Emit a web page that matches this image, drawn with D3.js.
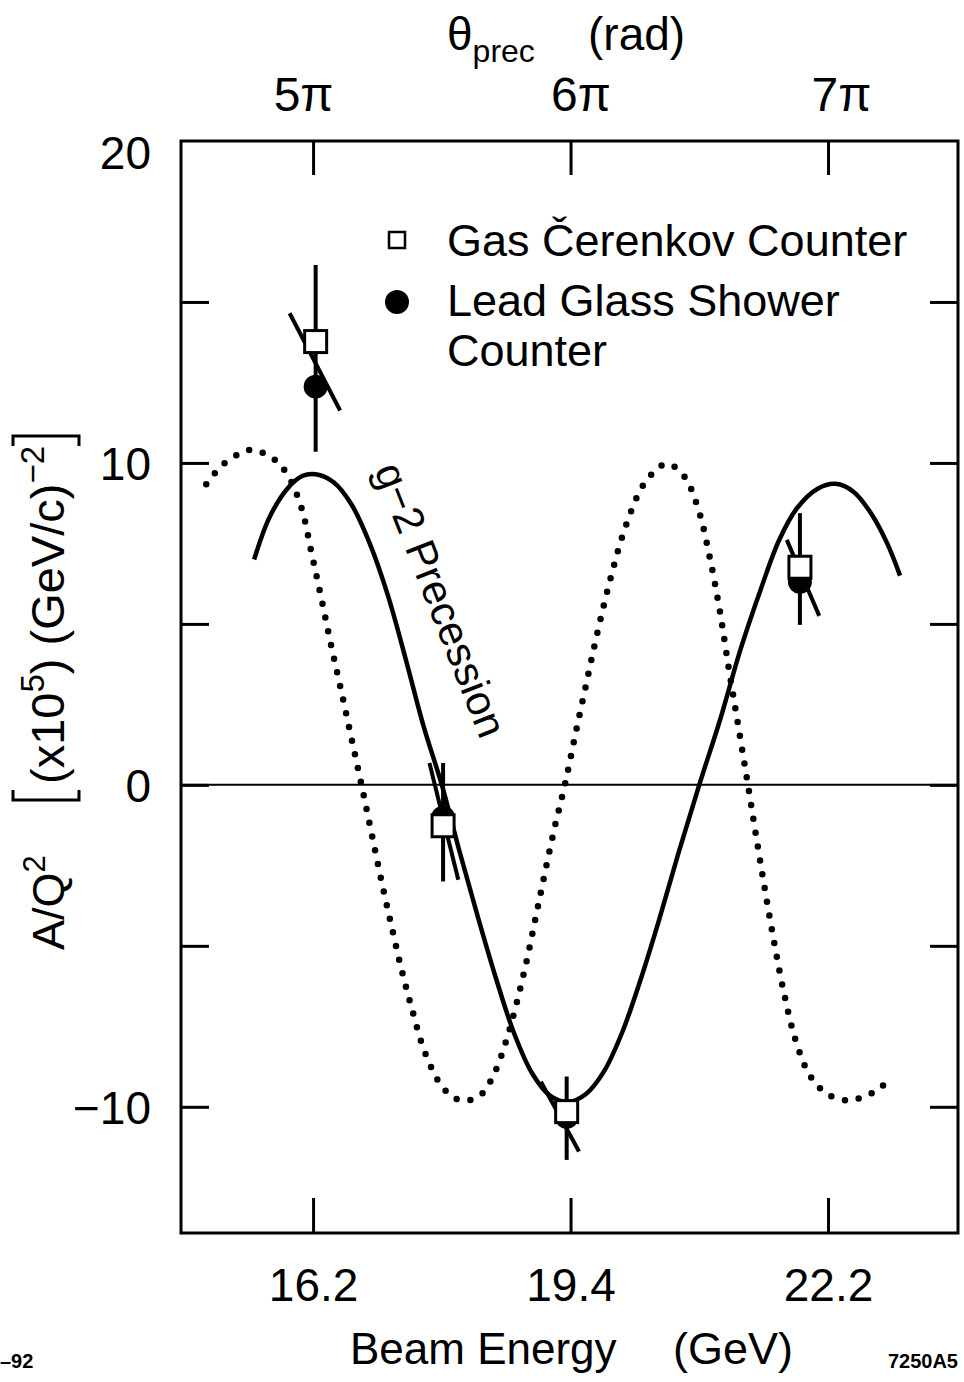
<!DOCTYPE html>
<html>
<head>
<meta charset="utf-8">
<script src="https://cdn.jsdelivr.net/npm/d3@7"></script>
<style>
  body { margin: 0; background: #fff; }
  text { font-family: "Liberation Sans", Arial, sans-serif; fill: #000; }
</style>
</head>
<body>
<svg id="chart" width="964" height="1382"></svg>
<script>
// precession angle in units of pi, and the matching beam energies
const precTicks = [5, 6, 7];
const precLabels = ['5π', '6π', '7π'];
const energyLabels = ['16.2', '19.4', '22.2'];

const yTicks = [-10, -5, 0, 5, 10, 15];
const yLabels = { '-10': '−10', '0': '0', '10': '10' };

// g-2 precession curve (solid): [theta/pi, A/Q^2]
const precessionCurve = [
  [4.771, 7.0], [4.83, 8.3], [4.9, 9.2], [4.96, 9.6], [5.01, 9.65],
  [5.08, 9.4], [5.15, 8.7], [5.22, 7.5], [5.29, 5.9], [5.36, 3.9],
  [5.43, 1.8], [5.5, 0], [5.57, -2.1], [5.64, -4.1], [5.71, -6.0],
  [5.78, -7.7], [5.85, -8.95], [5.92, -9.65], [5.99, -9.85], [6.06, -9.6],
  [6.13, -8.9], [6.2, -7.7], [6.27, -6.1], [6.34, -4.3], [6.42, -2.1],
  [6.5, 0], [6.58, 2.0], [6.66, 4.2], [6.74, 6.1], [6.81, 7.6],
  [6.88, 8.6], [6.96, 9.2], [7.03, 9.35], [7.1, 9.1], [7.17, 8.4],
  [7.23, 7.5], [7.28, 6.5]
];

// dotted curve
const dottedCurve = [
  [4.585, 9.34], [4.65, 9.95], [4.734, 10.36], [4.773, 10.4], [4.851, 10.1],
  [4.903, 9.6], [4.955, 8.6], [4.994, 7.2], [5.032, 5.8], [5.071, 4.3],
  [5.11, 2.9], [5.149, 1.45], [5.188, 0], [5.227, -1.5], [5.266, -3.0],
  [5.305, -4.4], [5.344, -5.75], [5.382, -6.9], [5.434, -8.3], [5.499, -9.35],
  [5.55, -9.73], [5.602, -9.8], [5.655, -9.6], [5.705, -8.95], [5.75, -7.95],
  [5.79, -6.8], [5.83, -5.45], [5.865, -4.1], [5.9, -2.75], [5.939, -1.3],
  [5.978, 0], [6.017, 1.5], [6.06, 3.1], [6.105, 4.75], [6.155, 6.4],
  [6.215, 8.05], [6.29, 9.4], [6.372, 9.97], [6.44, 9.6], [6.495, 8.6],
  [6.54, 7.1], [6.58, 5.4], [6.615, 3.6], [6.65, 1.9], [6.685, 0.2],
  [6.72, -1.55], [6.755, -3.25], [6.79, -4.85], [6.83, -6.5], [6.875, -7.95],
  [6.93, -9.03], [6.996, -9.6], [7.074, -9.8], [7.136, -9.7], [7.202, -9.42],
  [7.249, -9.03]
];

// measured points
const pointTheta = [5.01, 5.505, 5.985, 6.891];
const gasValue = [13.77, -1.27, -10.15, 6.76];
const gasErrHi = [16.15, 0.68, -9.06, 8.44];
const gasErrLo = [10.35, -3.0, -11.65, 4.97];
const leadValue = [12.37, -1.02, -10.31, 6.31];
const leadSlantStart = [[4.909, 14.65], [5.452, 0.68], [5.885, -9.22], [6.84, 7.61]];
const leadSlantEnd = [[5.105, 11.63], [5.564, -2.95], [6.033, -11.39], [6.966, 5.25]];

const svg = d3.select('#chart');
const frame = { left: 181, right: 958, top: 141, bottom: 1233 };

const x = d3.scaleLinear().domain([4.487, 7.505]).range([frame.left, frame.right]);
const y = d3.scaleLinear().domain([-13.92, 20]).range([frame.bottom, frame.top]);

function styleAxis(g, size) {
  g.select('.domain').remove();
  g.selectAll('.tick line').attr('stroke', '#000').attr('stroke-width', 3);
  g.selectAll('.tick text').style('font-size', (size || 44) + 'px').attr('fill', '#000');
}

svg.append('g')
  .attr('transform', `translate(${frame.left},0)`)
  .call(d3.axisLeft(y).tickValues(yTicks).tickSize(-28).tickPadding(30)
    .tickFormat(d => yLabels[d] || ''))
  .call(styleAxis, 46)
  .selectAll('.tick text').attr('dy', '0.36em');

// "20" sits at the top corner
svg.append('text')
  .attr('x', frame.left - 30).attr('y', y(20) + 28)
  .attr('text-anchor', 'end').style('font-size', '46px')
  .text('20');

svg.append('g')
  .attr('transform', `translate(${frame.right},0)`)
  .call(d3.axisRight(y).tickValues(yTicks).tickSize(-28).tickFormat(''))
  .call(styleAxis);

const precLabelShift = [-10, 10, 13];
svg.append('g')
  .attr('transform', `translate(0,${frame.top})`)
  .call(d3.axisTop(x).tickValues(precTicks).tickSize(-34).tickPadding(30)
    .tickFormat((d, i) => precLabels[i]))
  .call(styleAxis, 48)
  .selectAll('.tick text').attr('dx', (d, i) => precLabelShift[i]);

svg.append('g')
  .attr('transform', `translate(0,${frame.bottom})`)
  .call(d3.axisBottom(x).tickValues(precTicks).tickSize(-35).tickPadding(35)
    .tickFormat((d, i) => energyLabels[i]))
  .call(styleAxis, 46);

svg.append('rect')
  .attr('x', frame.left).attr('y', frame.top)
  .attr('width', frame.right - frame.left).attr('height', frame.bottom - frame.top)
  .attr('fill', 'none').attr('stroke', '#000').attr('stroke-width', 3);

// zero line
svg.append('line')
  .attr('x1', frame.left).attr('x2', frame.right)
  .attr('y1', y(0)).attr('y2', y(0))
  .attr('stroke', '#000').attr('stroke-width', 2);

const line = d3.line()
  .x(d => x(d[0]))
  .y(d => y(d[1]))
  .curve(d3.curveCatmullRom.alpha(0.5));

svg.append('path')
  .datum(dottedCurve)
  .attr('d', line)
  .attr('fill', 'none')
  .attr('stroke', '#000')
  .attr('stroke-width', 6.5)
  .attr('stroke-linecap', 'round')
  .attr('stroke-dasharray', '0 14');

svg.append('path')
  .datum(precessionCurve)
  .attr('d', line)
  .attr('fill', 'none')
  .attr('stroke', '#000')
  .attr('stroke-width', 4.5);

svg.append('text')
  .attr('transform', 'translate(374,470) rotate(68.5)')
  .style('font-size', '42px')
  .text('g−2 Precession');

// data points
const pts = pointTheta.map((t, i) => ({
  t, gas: gasValue[i], hi: gasErrHi[i], lo: gasErrLo[i],
  lead: leadValue[i], s0: leadSlantStart[i], s1: leadSlantEnd[i]
}));

const pg = svg.append('g');
pg.selectAll('.err').data(pts).join('line')
  .attr('x1', d => x(d.t)).attr('x2', d => x(d.t))
  .attr('y1', d => y(d.hi)).attr('y2', d => y(d.lo))
  .attr('stroke', '#000').attr('stroke-width', 4);

pg.selectAll('.slant').data(pts).join('line')
  .attr('x1', d => x(d.s0[0])).attr('y1', d => y(d.s0[1]))
  .attr('x2', d => x(d.s1[0])).attr('y2', d => y(d.s1[1]))
  .attr('stroke', '#000').attr('stroke-width', 4);

pg.selectAll('circle').data(pts).join('circle')
  .attr('cx', d => x(d.t)).attr('cy', d => y(d.lead))
  .attr('r', 12).attr('fill', '#000');

pg.selectAll('rect').data(pts).join('rect')
  .attr('x', d => x(d.t) - 11).attr('y', d => y(d.gas) - 11)
  .attr('width', 22).attr('height', 22)
  .attr('fill', '#fff').attr('stroke', '#000').attr('stroke-width', 3);

// legend
const lg = svg.append('g');
lg.append('rect')
  .attr('x', 389).attr('y', 232).attr('width', 16).attr('height', 16)
  .attr('fill', '#fff').attr('stroke', '#000').attr('stroke-width', 2.5);
lg.append('text').attr('x', 447).attr('y', 256).style('font-size', '45px')
  .text('Gas Čerenkov Counter');
lg.append('circle').attr('cx', 397).attr('cy', 302).attr('r', 12).attr('fill', '#000');
lg.append('text').attr('x', 447).attr('y', 316).style('font-size', '45px')
  .text('Lead Glass Shower');
lg.append('text').attr('x', 447).attr('y', 366).style('font-size', '45px')
  .text('Counter');

// axis titles
const topTitle = svg.append('text').attr('x', 447).attr('y', 50).style('font-size', '46px');
topTitle.append('tspan').text('θ');
topTitle.append('tspan').attr('dy', 12).style('font-size', '32px').text('prec');
topTitle.append('tspan').attr('x', 588).attr('dy', -12).text('(rad)');

svg.append('text')
  .attr('x', 350).attr('y', 1364).style('font-size', '44px')
  .text('Beam Energy');
svg.append('text')
  .attr('x', 673).attr('y', 1364).style('font-size', '45px')
  .text('(GeV)');

const yt = svg.append('g').attr('transform', 'translate(64,950) rotate(-90)');
const aq = yt.append('text').attr('x', 0).attr('y', 0).style('font-size', '45px');
aq.append('tspan').text('A/Q');
aq.append('tspan').attr('dy', -19).style('font-size', '31px').text('2');

const unitStart = 166;
const unit = yt.append('text').attr('x', unitStart).attr('y', 0).style('font-size', '47px');
unit.append('tspan').text('(x10');
unit.append('tspan').attr('dy', -20).style('font-size', '33px').text('5');
unit.append('tspan').attr('dy', 20).text(') (GeV/c)');
unit.append('tspan').attr('dy', -20).style('font-size', '33px').text('−2');
const unitEnd = unitStart + unit.node().getComputedTextLength();

const bracket = (u, dir) =>
  `M${u + 10 * dir},-51 L${u},-51 L${u},15 L${u + 10 * dir},15`;
yt.append('path').attr('d', bracket(unitStart - 16, 1))
  .attr('fill', 'none').attr('stroke', '#000').attr('stroke-width', 3);
yt.append('path').attr('d', bracket(unitEnd + 10, -1))
  .attr('fill', 'none').attr('stroke', '#000').attr('stroke-width', 3);

// figure codes
svg.append('text').attr('x', 0).attr('y', 1368)
  .style('font-size', '20px').style('font-weight', 'bold').text('–92');
svg.append('text').attr('x', 958).attr('y', 1368).attr('text-anchor', 'end')
  .style('font-size', '20px').style('font-weight', 'bold').text('7250A5');
</script>
</body>
</html>
